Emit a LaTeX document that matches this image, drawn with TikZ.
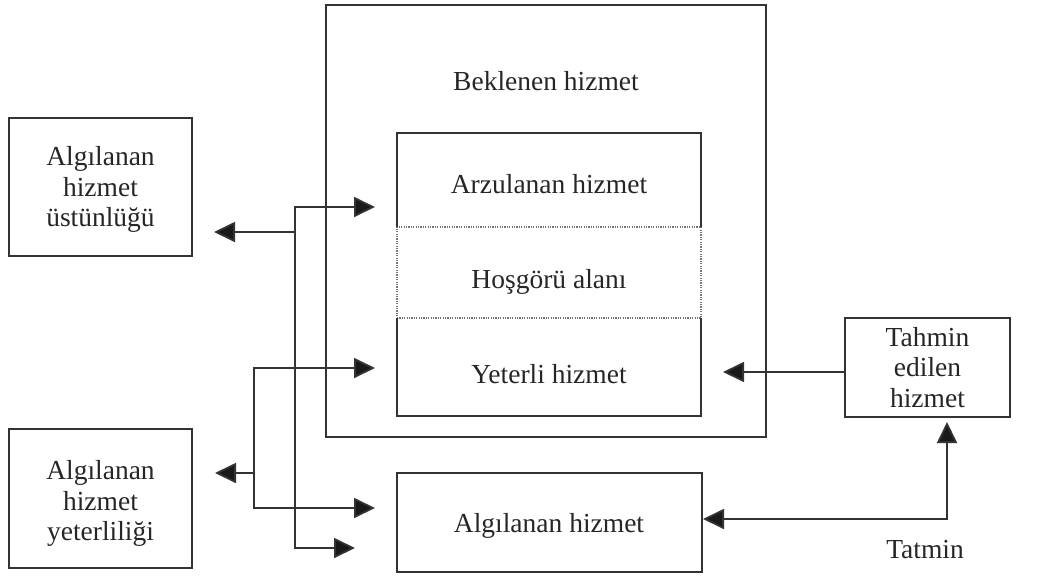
\documentclass[tikz,border=0pt]{standalone}
\usepackage{fontspec}
\setmainfont{Liberation Serif}
\usetikzlibrary{arrows.meta}
\begin{document}
\begin{tikzpicture}[x=1pt,y=-1pt,
  every node/.style={font=\fontsize{27.5}{30.5}\selectfont, align=center, inner sep=0pt, text=black!85},
  box/.style={draw=black!80, line width=1.8pt},
  part/.style={minimum width=304, inner sep=0pt},
  conn/.style={draw=black!80, line width=1.8pt},
  arr/.style={conn, -{Triangle[length=21pt,width=20pt,fill=black!90]}},
  both/.style={conn, {Triangle[length=21pt,width=20pt,fill=black!90]}-{Triangle[length=21pt,width=20pt,fill=black!90]}},
  dots/.style={draw=black!55, line width=1.4pt, dash pattern=on 1.2pt off 1.2pt}]
\useasboundingbox (0,0) rectangle (1046,576);

% expected service frame
\node[box, minimum width=440, minimum height=432] (bek) at (546,221) {};
\node[anchor=base] (bektxt) at (546,90) {Beklenen hizmet};

% the three bands of the inner box
\node[part, minimum height=94] (arz) at (549,180) {};
\node[part, minimum height=91, dots] (hos) at (549,272.5) {};
\node[part, minimum height=98] (yet) at (549,367) {};
\draw[conn] (arz.south west) -- (arz.north west) -- (arz.north east) -- (arz.south east);
\draw[conn] (yet.north west) -- (yet.south west) -- (yet.south east) -- (yet.north east);
\node[anchor=base] (arztxt) at (549,193) {Arzulanan hizmet};
\node[anchor=base] (hostxt) at (549,288) {Hoşgörü alanı};
\node[anchor=base] (yettxt) at (549,383) {Yeterli hizmet};

% outer boxes
\node[box, minimum width=183, minimum height=138] (ust) at (100.5,187) {};
\node (usttxt) at (100.5,189.5) {Algılanan\\hizmet\\üstünlüğü};
\node[box, minimum width=183, minimum height=139] (yeter) at (100.5,498.5) {};
\node (yetertxt) at (100.5,503.5) {Algılanan\\hizmet\\yeterliliği};
\node[box, minimum width=305, minimum height=99] (alg) at (549.5,522.5) {};
\node[anchor=base] (algtxt) at (549,532) {Algılanan hizmet};
\node[box, minimum width=165, minimum height=99] (tah) at (927.5,367.5) {Tahmin\\edilen\\hizmet};
\node[anchor=base] (tat) at (925,558) {Tatmin};

% connector points
\coordinate (k1t) at (295,207);
\coordinate (k1b) at (295,548);
\coordinate (j1) at (295,232);
\coordinate (e1t) at (375,207);
\coordinate (e1b) at (355,548);
\coordinate (u1) at (214,232);
\coordinate (k2t) at (254,368);
\coordinate (k2b) at (254,508);
\coordinate (j2) at (254,473);
\coordinate (e2t) at (375,368);
\coordinate (e2b) at (375,508);
\coordinate (u2) at (215,473);
\coordinate (t1) at (723,372);
\coordinate (s1) at (703,519);
\coordinate (s2) at (947,519);
\coordinate (s3) at (947,422);

% superiority trunk
\draw[both] (e1b) -- (k1b) -- (k1t) -- (e1t);
\draw[arr] (j1) -- (u1);
% adequacy trunk
\draw[both] (e2b) -- (k2b) -- (k2t) -- (e2t);
\draw[arr] (j2) -- (u2);
% predicted service
\draw[arr] (t1 -| tah.west) -- (t1);
% satisfaction
\draw[both] (s1) -- (s2) -- (s3);
\end{tikzpicture}
\end{document}
